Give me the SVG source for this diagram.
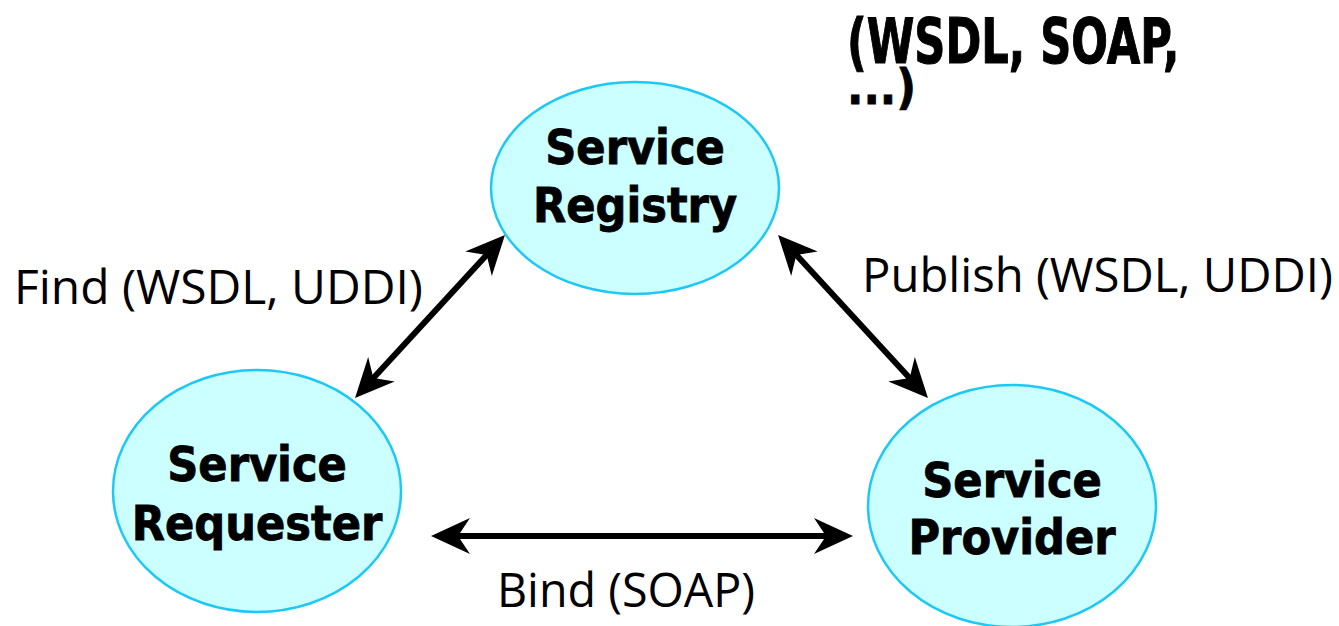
<svg xmlns="http://www.w3.org/2000/svg" width="1339" height="626" viewBox="0 0 1339 626">
<style>
.node{fill:#CCFFFF;stroke:#1EC8F5;stroke-width:2.5}
.nt{font-family:"DejaVu Sans Condensed","DejaVu Sans",sans-serif;font-stretch:condensed;font-weight:bold;font-size:48px;fill:#000;stroke:#000;stroke-width:0.8;text-anchor:middle}
.lbl{font-family:"Open Sans","Liberation Sans",sans-serif;font-size:48px;fill:#000}
.conn{stroke:#000;stroke-width:6;fill:none;marker-start:url(#ah);marker-end:url(#ah)}
</style>
<defs>
<marker id="ah" markerUnits="userSpaceOnUse" viewBox="0 -20 40 40" refX="20" refY="0" markerWidth="40" markerHeight="40" orient="auto-start-reverse">
<path d="M0,-18 L39,0 L0,18 L12,0 Z" fill="#000"/>
</marker>
</defs>
<rect width="1339" height="626" fill="#fff"/>
<g id="connectors">
<path class="conn" d="M367.9,384 L492.1,249"/>
<path class="conn" d="M790.9,249 L915.1,384"/>
<path class="conn" d="M450,536 L834,536"/>
</g>
<g id="registry">
<ellipse class="node" cx="635" cy="188" rx="144" ry="106"/>
<text class="nt" x="635" y="164">Service</text>
<text class="nt" x="635" y="222">Registry</text>
</g>
<g id="requester">
<ellipse class="node" cx="257" cy="491" rx="144" ry="121"/>
<text class="nt" x="257" y="481">Service</text>
<text class="nt" x="257" y="540">Requester</text>
</g>
<g id="provider">
<ellipse class="node" cx="1012" cy="506" rx="144" ry="121"/>
<text class="nt" x="1012" y="497">Service</text>
<text class="nt" x="1012" y="554">Provider</text>
</g>
<g id="labels">
<text class="lbl" x="14" y="304" textLength="409" lengthAdjust="spacingAndGlyphs">Find (WSDL, UDDI)</text>
<text class="lbl" x="862" y="292" textLength="471" lengthAdjust="spacingAndGlyphs">Publish (WSDL, UDDI)</text>
<text class="lbl" x="497" y="607" textLength="258" lengthAdjust="spacingAndGlyphs">Bind (SOAP)</text>
<text class="nt" transform="translate(847,63) scale(1,1.3)" x="0" y="0" style="text-anchor:start">(WSDL, SOAP,</text>
<text class="nt" x="847" y="104" style="text-anchor:start">...)</text>
</g>
</svg>
